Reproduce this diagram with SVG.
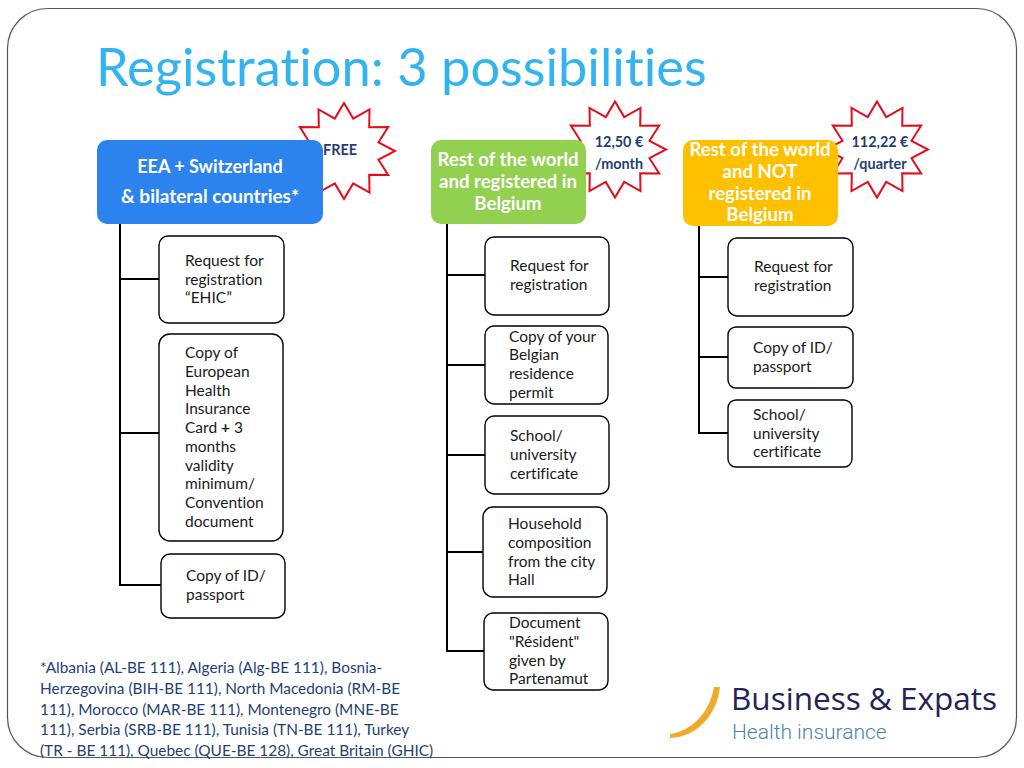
<svg xmlns="http://www.w3.org/2000/svg" width="1024" height="768" viewBox="0 0 1024 768" font-family="Lato, 'Liberation Sans', sans-serif">
<style>
text{font-family:Lato,'Liberation Sans',sans-serif;font-variant-ligatures:none}
.b{fill:#fff;stroke:#000;stroke-width:1.4}
.t{font-size:15.500px;fill:#1a1a1a}
.h{font-size:18.600px;font-weight:700;fill:#fff;text-anchor:middle}
.p{font-size:14.400px;font-weight:700;fill:#1f3f73;text-anchor:middle}
.s{fill:#fff;stroke:#e30d1b;stroke-width:2}
.c{fill:none;stroke:#000;stroke-width:2}
.f{font-size:15.400px;fill:#1f3f73}
</style>
<defs>
<polygon id="star" points="0,-48 9.200,-32.400 25.500,-41.600 25.200,-23.800 44.200,-24 34.500,-8.700 51,0 34.500,8.700 44.200,24 25.200,23.800 25.500,41.600 9.200,32.400 0,48 -9.200,32.400 -25.500,41.600 -25.200,23.800 -44.200,24 -34.500,8.700 -51,0 -34.500,-8.700 -44.200,-24 -25.200,-23.800 -25.500,-41.600 -9.200,-32.400"/>
</defs>
<rect width="1024" height="768" fill="#fff"/>
<rect id="frame" x="7.500" y="8.500" width="1009" height="749" rx="40" fill="#fff" stroke="#555" stroke-width="1.200"/>
<text id="title" x="96" y="86" font-size="52.400" fill="#33b4f1">Registration: 3 possibilities</text>

<g id="connectors">
<path class="c" d="M120 224V585H161M120 279H159M120 433H159"/>
<path class="c" d="M447 224V651H484M447 275H485M447 365H485M447 455H485M447 552H483"/>
<path class="c" d="M699 226V433H728M699 277H728M699 357H728"/>
</g>

<g id="star-free"><use href="#star" class="s" transform="translate(344 151)"/><text class="p" x="340" y="155">FREE</text></g>
<g id="star-month"><use href="#star" class="s" transform="translate(615 149.500)"/><text class="p" x="619" y="147">12,50 €</text><text class="p" x="619" y="169">/month</text></g>
<g id="star-quarter"><use href="#star" class="s" transform="translate(877 149.500)"/><text class="p" x="880" y="147">112,22 €</text><text class="p" x="880" y="169">/quarter</text></g>

<g id="head-eea"><rect x="97" y="140" width="226" height="84" rx="10" fill="#2c83ee"/><text class="h" x="210" y="173" style="font-size:18px">EEA + Switzerland</text><text class="h" x="210" y="203" style="font-size:19px">&amp; bilateral countries*</text></g>
<g id="head-registered"><rect x="431" y="140" width="155" height="84" rx="10" fill="#92d050"/><text class="h" x="508" y="166">Rest of the world</text><text class="h" x="508" y="188">and registered in</text><text class="h" x="508" y="210">Belgium</text></g>
<g id="head-not"><rect x="683" y="140" width="155" height="86" rx="10" fill="#ffc000"/><text class="h" x="760" y="156">Rest of the world</text><text class="h" x="760" y="178">and NOT</text><text class="h" x="760" y="200">registered in</text><text class="h" x="760" y="221">Belgium</text></g>

<g id="a1"><rect class="b" x="159" y="236" width="125" height="87" rx="9"/><text class="t" x="185" y="266">Request for</text><text class="t" x="185" y="285">registration</text><text class="t" x="185" y="303">“EHIC”</text></g>
<g id="a2"><rect class="b" x="159" y="334" width="124" height="207" rx="11"/><text class="t" x="185" y="358">Copy of</text><text class="t" x="185" y="377">European</text><text class="t" x="185" y="396">Health</text><text class="t" x="185" y="414">Insurance</text><text class="t" x="185" y="433">Card <tspan font-weight="700">+</tspan> 3</text><text class="t" x="185" y="452">months</text><text class="t" x="185" y="471">validity</text><text class="t" x="185" y="489">minimum/</text><text class="t" x="185" y="508">Convention</text><text class="t" x="185" y="527">document</text></g>
<g id="a3"><rect class="b" x="161" y="554" width="124" height="64" rx="9"/><text class="t" x="186" y="581">Copy of ID/</text><text class="t" x="186" y="600">passport</text></g>

<g id="b1"><rect class="b" x="485" y="237" width="124" height="78" rx="9"/><text class="t" x="510" y="271">Request for</text><text class="t" x="510" y="290">registration</text></g>
<g id="b2"><rect class="b" x="485" y="326" width="123" height="78" rx="9"/><text class="t" x="509" y="342">Copy of your</text><text class="t" x="509" y="360">Belgian</text><text class="t" x="509" y="379">residence</text><text class="t" x="509" y="398">permit</text></g>
<g id="b3"><rect class="b" x="485" y="416" width="124" height="78" rx="9"/><text class="t" x="510" y="441">School/</text><text class="t" x="510" y="460">university</text><text class="t" x="510" y="479">certificate</text></g>
<g id="b4"><rect class="b" x="483" y="507" width="124" height="90" rx="10"/><text class="t" x="508" y="529">Household</text><text class="t" x="508" y="548">composition</text><text class="t" x="508" y="567">from the city</text><text class="t" x="508" y="585">Hall</text></g>
<g id="b5"><rect class="b" x="484" y="613" width="124" height="77" rx="9"/><text class="t" x="509" y="628">Document</text><text class="t" x="509" y="647">"Résident"</text><text class="t" x="509" y="666">given by</text><text class="t" x="509" y="684">Partenamut</text></g>

<g id="c1"><rect class="b" x="728" y="238" width="125" height="78" rx="9"/><text class="t" x="754" y="272">Request for</text><text class="t" x="754" y="291">registration</text></g>
<g id="c2"><rect class="b" x="728" y="327" width="125" height="61" rx="8"/><text class="t" x="753" y="353">Copy of ID/</text><text class="t" x="753" y="372">passport</text></g>
<g id="c3"><rect class="b" x="728" y="400" width="124" height="67" rx="8"/><text class="t" x="753" y="420">School/</text><text class="t" x="753" y="439">university</text><text class="t" x="753" y="457">certificate</text></g>

<g id="footnote"><text class="f" x="40" y="673">*Albania (AL-BE 111), Algeria (Alg-BE 111), Bosnia-</text><text class="f" x="40" y="694">Herzegovina (BIH-BE 111), North Macedonia (RM-BE</text><text class="f" x="40" y="715">111), Morocco (MAR-BE 111), Montenegro (MNE-BE</text><text class="f" x="40" y="735">111), Serbia (SRB-BE 111), Tunisia (TN-BE 111), Turkey</text><text class="f" x="40" y="756">(TR - BE 111), Quebec (QUE-BE 128), Great Britain (GHIC)</text></g>

<g id="logo"><path d="M714 687L720 687C717 714 698 737 670 738L670 734C692 731 710 712 714 687Z" fill="#efaa2a"/><text x="731" y="710" font-size="31.500" fill="#232356" style="font-family:'Open Sans',sans-serif">Business &amp; Expats</text><text x="732" y="739" font-size="21" fill="#4a84ad" style="font-family:Roboto,sans-serif;font-weight:300">Health insurance</text></g>
</svg>
